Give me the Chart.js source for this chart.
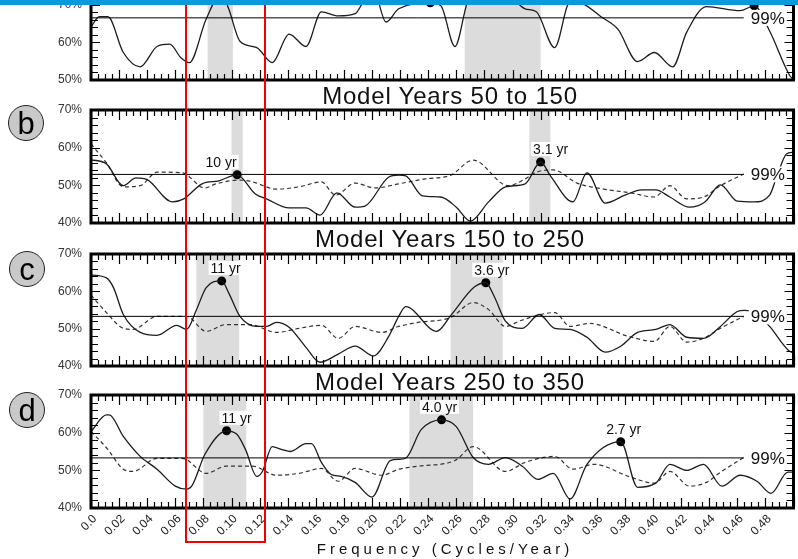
<!DOCTYPE html>
<html>
<head>
<meta charset="utf-8">
<script src="https://cdn.jsdelivr.net/npm/chart.js@4.4.1/dist/chart.umd.min.js"></script>
<style>
  body { margin: 0; width: 798px; height: 559px; overflow: hidden; background: #fff; position: relative;
         font-family: "Liberation Sans", Arial, sans-serif; }
  canvas { position: absolute; left: 0; }
  .title { position: absolute; left: 200px; width: 500px; text-align: center; font-size: 24px; line-height: 24px;
           letter-spacing: 0.8px; color: #111; }
  .letter { position: absolute; width: 34px; height: 34px; border: 1.5px solid #222; border-radius: 50%;
            background: #c9c9c9; font-size: 31px; display: flex; align-items: center; justify-content: center;
            line-height: 1; color: #000; }
  .xtitle { position: absolute; left: 145px; width: 600px; top: 540px; text-align: center; font-size: 15px;
            letter-spacing: 4px; color: #111; }
  #redbox { position: absolute; left: 185px; top: -10px; width: 81px; height: 553px; box-sizing: border-box;
            border: 2px solid #f20000; }
  #bluebar { position: absolute; left: 0; top: 0; width: 798px; height: 5px; background: #079bdc; }
</style>
</head>
<body>
<canvas id="pa"></canvas>
<canvas id="pb"></canvas>
<canvas id="pc"></canvas>
<canvas id="pd"></canvas>

<div class="title" style="top:84px">Model Years 50 to 150</div>
<div class="title" style="top:227px">Model Years 150 to 250</div>
<div class="title" style="top:370px">Model Years 250 to 350</div>

<div class="letter" style="left:8px;top:105px">b</div>
<div class="letter" style="left:9px;top:251px">c</div>
<div class="letter" style="left:9px;top:392px">d</div>

<div class="xtitle">Frequency (Cycles/Year)</div>
<div id="redbox"></div>
<div id="bluebar"></div>

<script>
// ---- data: [frequency, power %] ----
const aSolid = [[0,64.1],[0.006,66.8],[0.012,66.8],[0.023,57.3],[0.035,53.5],[0.047,58.9],[0.056,59.5],[0.064,55.9],
  [0.070,54.6],[0.082,66.2],[0.093,73],[0.098,68.9],[0.106,60.3],[0.118,58.6],[0.129,54.6],[0.141,62.2],[0.153,58.9],
  [0.164,68.1],[0.176,67],[0.188,67.6],[0.195,71.6],[0.201,74],[0.210,65.4],[0.219,68.9],[0.2415,70.5],[0.249,69.7],
  [0.259,58.9],[0.268,70.8],[0.278,76],[0.293,76],[0.304,70.3],[0.309,68.9],[0.317,68.1],[0.330,58.6],[0.341,70.8],
  [0.350,70.3],[0.363,66.8],[0.375,63.5],[0.389,54.9],[0.401,57.3],[0.414,53.5],[0.424,62.7],[0.438,69.5],[0.462,68.4],
  [0.472,69.7],[0.483,63],[0.497,51.4],[0.5,50]];

const bSolid = [[0,56.8],[0.011,55.7],[0.023,49.9],[0.032,52],[0.040,51.5],[0.058,45.6],[0.066,46.4],[0.079,50.4],
  [0.091,51.2],[0.104,52.8],[0.117,47.7],[0.125,46.4],[0.141,44],[0.153,44],[0.163,42.1],[0.175,48],[0.188,44.2],
  [0.195,44.5],[0.212,52.2],[0.219,52.7],[0.224,52.5],[0.236,47.2],[0.249,46.9],[0.260,44.2],[0.270,40.5],[0.283,45.6],
  [0.295,49.6],[0.309,50.4],[0.320,56.2],[0.327,52.5],[0.343,45.6],[0.353,53.3],[0.366,45.3],[0.380,47.4],[0.392,48.8],
  [0.402,48.8],[0.412,46.9],[0.426,44.2],[0.437,45.6],[0.448,50.1],[0.460,45.8],[0.472,45.6],[0.483,47.4],[0.488,52.2],
  [0.495,58.3],[0.5,58.8]];
const bDash = [[0,61],[0.006,58.3],[0.011,56],[0.023,49.6],[0.035,49.9],[0.047,53.5],[0.065,53.3],[0.081,49.3],
  [0.089,50.4],[0.106,51.4],[0.115,50.9],[0.132,49],[0.148,49.6],[0.164,50.9],[0.174,47.4],[0.188,50.6],[0.202,49.3],
  [0.219,50.4],[0.238,51.7],[0.256,52.7],[0.272,56.7],[0.297,49.9],[0.309,51.7],[0.317,53.5],[0.329,54.1],[0.346,50.6],
  [0.365,49],[0.384,48],[0.401,46.9],[0.412,49.9],[0.424,46.4],[0.436,46.9],[0.448,49.9],[0.4646,53]];

const cSolid = [[0,64.4],[0.011,63.6],[0.016,61],[0.023,53.8],[0.035,49],[0.047,48.2],[0.061,50.9],[0.068,49.8],
  [0.075,55],[0.082,61],[0.093,62.8],[0.098,59.6],[0.106,53.3],[0.118,50.6],[0.125,50.6],[0.132,51.7],[0.141,50.4],
  [0.153,45],[0.163,41],[0.176,43.2],[0.188,45.3],[0.201,42.7],[0.212,48],[0.219,53.3],[0.224,55.9],[0.246,49.3],
  [0.256,53.5],[0.273,61.2],[0.281,62.3],[0.287,58.6],[0.295,52],[0.307,50.1],[0.319,53.8],[0.330,50.1],[0.341,49.8],
  [0.353,47.7],[0.366,43.7],[0.377,45.3],[0.389,49],[0.402,49.8],[0.412,51.1],[0.424,47.7],[0.436,47.4],[0.448,50.6],
  [0.460,54.6],[0.465,54.9],[0.474,54],[0.483,50.6],[0.497,44],[0.5,43.5]];
const cDash = [[0,59],[0.011,54.3],[0.023,50.1],[0.030,49.8],[0.047,53.3],[0.068,53.3],[0.082,49.3],[0.096,51.1],
  [0.113,51.1],[0.132,49],[0.148,50.1],[0.164,50.9],[0.176,47.4],[0.188,50.6],[0.207,49],[0.219,50.6],[0.233,51.7],
  [0.256,53],[0.272,57],[0.283,55.1],[0.295,50.6],[0.306,52.2],[0.330,54.3],[0.341,50.6],[0.355,51.4],[0.382,48],
  [0.401,46.6],[0.412,50.6],[0.424,46.4],[0.436,47.4],[0.448,50.1],[0.4646,53.3]];

const dSolid = [[0,60.3],[0.011,64.7],[0.013,64.7],[0.023,59],[0.035,53.7],[0.047,50.3],[0.060,45.8],[0.068,45],
  [0.072,46],[0.081,54.2],[0.0965,60.5],[0.104,59.5],[0.110,55.5],[0.118,48.4],[0.122,49.7],[0.129,56.3],[0.136,55.5],
  [0.142,55],[0.153,57.1],[0.157,57.1],[0.164,52.1],[0.171,48.9],[0.178,48.4],[0.188,46.8],[0.200,42.9],[0.213,52.6],
  [0.219,52.9],[0.224,53.2],[0.235,60.8],[0.2495,63.4],[0.260,61.6],[0.272,53.4],[0.283,51.6],[0.295,53.4],[0.307,51.1],
  [0.318,47.6],[0.329,49.2],[0.341,42.4],[0.353,51.6],[0.377,57.6],[0.389,45.5],[0.402,46.6],[0.412,51.6],[0.424,50],
  [0.436,51.6],[0.449,45.8],[0.462,48.7],[0.474,47.1],[0.484,43.9],[0.496,49.5],[0.5,49.5]];
const dDash = [[0,60.3],[0.011,56],[0.023,50.3],[0.030,49.7],[0.047,53.2],[0.065,53.2],[0.082,49.2],[0.096,51.1],
  [0.115,51.1],[0.132,48.7],[0.148,49.2],[0.164,50.5],[0.176,47.1],[0.188,50.5],[0.207,48.7],[0.219,50.3],[0.233,51.1],
  [0.259,52.6],[0.272,56.3],[0.295,49.7],[0.309,52.1],[0.330,53.7],[0.343,50.3],[0.358,51.6],[0.384,48.2],[0.401,46.6],
  [0.412,49.7],[0.426,45.8],[0.438,46.8],[0.448,49.5],[0.4646,53.4]];

// spectral peaks
const aPeaks = [[0.2415,70.5],[0.472,69.7]];
const aPeakText = ['', ''];
const bPeaks = [[0.104,52.8],[0.320,56.2]];
const bPeakText = ['10 yr', '3.1 yr'];
const cPeaks = [[0.093,62.8],[0.281,62.3]];
const cPeakText = ['11 yr', '3.6 yr'];
const dPeaks = [[0.0965,60.5],[0.2495,63.4],[0.377,57.6]];
const dPeakText = ['11 yr', '4.0 yr', '2.7 yr'];

// shaded frequency bands
const aBands = [[0.083,0.101],[0.266,0.320]];
const bBands = [[0.100,0.108],[0.312,0.327]];
const cBands = [[0.075,0.1055],[0.256,0.293]];
const dBands = [[0.080,0.1105],[0.2266,0.272]];

// 99% significance levels, and where that line stops
const sig99 = [66.5, 52.9, 53.3, 53.3];
const sigEnd = 0.4646;

const xTickLabels = ['0.0','0.02','0.04','0.06','0.08','0.10','0.12','0.14','0.16','0.18','0.20','0.22','0.24',
  '0.26','0.28','0.30','0.32','0.34','0.36','0.38','0.40','0.42','0.44','0.46','0.48'];
const xTickValues = xTickLabels.map(Number);

// ---- layout ----
const FONT = '"Liberation Sans", Arial, sans-serif';
Chart.defaults.font.family = FONT;

function pts(arr) { return arr.map(p => ({ x: p[0], y: p[1] })); }

function makePanel(id, plotTop, plotBottom, yMin, yMax, solid, dash, peaks, peakText, labelDx, bands, sig, showX, tension) {
  const padTop = 20, padBot = showX ? 40 : 12;
  const cv = document.getElementById(id);
  cv.width = 798;
  cv.height = plotBottom - plotTop + padTop + padBot;
  cv.style.top = (plotTop - padTop) + 'px';

  const datasets = [
    { data: [{ x: 0, y: sig }, { x: sigEnd, y: sig }], borderColor: '#000', borderWidth: 1, pointRadius: 0 },
    { data: pts(solid), borderColor: '#1c1c1c', borderWidth: 1.3, pointRadius: 0, tension: tension,
      cubicInterpolationMode: 'monotone' }
  ];
  if (dash) {
    datasets.push({ data: pts(dash), borderColor: '#333', borderWidth: 1.2, borderDash: [4, 3], pointRadius: 0,
      tension: 0.15, cubicInterpolationMode: 'monotone' });
  }
  datasets.push({ data: pts(peaks), showLine: false, pointRadius: 4.5, pointHoverRadius: 4.5,
    pointBackgroundColor: '#000', pointBorderColor: '#000', borderWidth: 0 });

  const deco = {
    id: 'deco_' + id,
    beforeDatasetsDraw(chart) {
      const { ctx, chartArea: a, scales: { x } } = chart;
      ctx.save();
      ctx.fillStyle = '#dcdcdc';
      bands.forEach(([f0, f1]) => {
        const x0 = x.getPixelForValue(f0), x1 = x.getPixelForValue(f1);
        ctx.fillRect(x0, a.top, x1 - x0, a.bottom - a.top);
      });
      ctx.restore();
    },
    afterDatasetsDraw(chart) {
      const { ctx, chartArea: a, scales: { x, y } } = chart;
      ctx.save();
      // ticks
      ctx.strokeStyle = '#000';
      ctx.lineWidth = 1.2;
      ctx.beginPath();
      for (let i = 0; i <= 100; i++) {
        const px = Math.round(x.getPixelForValue(i * 0.005)) + 0.5;
        const len = i % 4 === 0 ? 10 : 6;
        ctx.moveTo(px, a.top); ctx.lineTo(px, a.top + len);
        ctx.moveTo(px, a.bottom); ctx.lineTo(px, a.bottom - len);
      }
      for (let v = yMin; v <= yMax; v += 2) {
        const py = Math.round(y.getPixelForValue(v)) + 0.5;
        const len = v % 10 === 0 ? 9 : 7;
        ctx.moveTo(a.left, py); ctx.lineTo(a.left + len, py);
        ctx.moveTo(a.right, py); ctx.lineTo(a.right - len, py);
      }
      ctx.stroke();
      // frame
      ctx.lineWidth = 3;
      ctx.strokeRect(a.left, a.top, a.right - a.left, a.bottom - a.top);

      // y labels
      ctx.fillStyle = '#333';
      ctx.font = '12px ' + FONT;
      ctx.textAlign = 'right';
      ctx.textBaseline = 'middle';
      for (let v = yMin; v <= yMax; v += 10) ctx.fillText(v + '%', 82, y.getPixelForValue(v));

      // 99% label
      ctx.font = '17px ' + FONT;
      ctx.textAlign = 'center';
      const sx = x.getPixelForValue(sigEnd) + 24, sy = y.getPixelForValue(sig);
      const sw = ctx.measureText('99%').width;
      ctx.fillStyle = '#fff';
      ctx.fillRect(sx - sw / 2 - 2, sy - 8, sw + 4, 16);
      ctx.fillStyle = '#111';
      ctx.fillText('99%', sx, sy + 1);

      // peak labels
      ctx.font = '14px ' + FONT;
      peaks.forEach((p, i) => {
        const t = peakText[i];
        if (!t) return;
        const lx = x.getPixelForValue(p[0]) + labelDx[i], ly = y.getPixelForValue(p[1]) - 13;
        const w = ctx.measureText(t).width;
        ctx.fillStyle = '#fff';
        ctx.fillRect(lx - w / 2 - 2, ly - 7, w + 4, 14);
        ctx.fillStyle = '#111';
        ctx.fillText(t, lx, ly + 1);
      });

      // x tick labels
      if (showX) {
        ctx.font = '12px ' + FONT;
        ctx.fillStyle = '#222';
        ctx.textAlign = 'right';
        ctx.textBaseline = 'middle';
        xTickValues.forEach((v, i) => {
          ctx.save();
          ctx.translate(x.getPixelForValue(v) + 4, a.bottom + 9);
          ctx.rotate(-Math.PI / 4);
          ctx.fillText(xTickLabels[i], 0, 0);
          ctx.restore();
        });
      }
      ctx.restore();
    }
  };

  return new Chart(cv, {
    type: 'line',
    data: { datasets },
    options: {
      responsive: false,
      animation: false,
      events: [],
      layout: { padding: { left: 91, right: 1, top: padTop, bottom: padBot } },
      plugins: { legend: { display: false }, tooltip: { enabled: false } },
      scales: {
        x: { type: 'linear', min: 0, max: 0.5, display: false },
        y: { type: 'linear', min: yMin, max: yMax, display: false }
      }
    },
    plugins: [deco]
  });
}

makePanel('pa', -33, 80, 50, 80, aSolid, null, aPeaks, aPeakText, [0, 0], aBands, sig99[0], false, 0.2);
makePanel('pb', 110, 223.5, 40, 70, bSolid, bDash, bPeaks, bPeakText, [-16, 10], bBands, sig99[1], false, 0);
makePanel('pc', 254, 366, 40, 70, cSolid, cDash, cPeaks, cPeakText, [4, 6], cBands, sig99[2], false, 0.25);
makePanel('pd', 395, 508, 40, 70, dSolid, dDash, dPeaks, dPeakText, [10, -2, 3], dBands, sig99[3], true, 0.25);
</script>
</body>
</html>
